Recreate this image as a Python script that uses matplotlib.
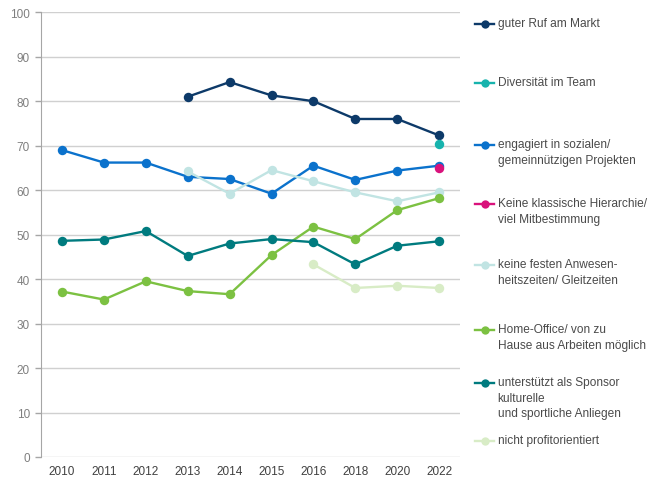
import numpy as np
import matplotlib.pyplot as plt

# Jahre (kategoriale Achse, 2017/2019/2021 fehlen)
jahre = ['2010', '2011', '2012', '2013', '2014', '2015', '2016', '2018', '2020', '2022']
nan = np.nan

guter_ruf = [nan, nan, nan, 81.0, 84.3, 81.3, 80.0, 76.0, 76.0, 72.3]
diversitaet = [nan, nan, nan, nan, nan, nan, nan, nan, nan, 70.3]
engagiert = [69.0, 66.2, 66.2, 63.0, 62.5, 59.2, 65.5, 62.3, 64.4, 65.5]
hierarchie = [nan, nan, nan, nan, nan, nan, nan, nan, nan, 65.0]
gleitzeit = [nan, nan, nan, 64.2, 59.2, 64.5, 62.0, 59.5, 57.5, 59.5]
homeoffice = [37.2, 35.4, 39.5, 37.3, 36.6, 45.4, 51.8, 49.0, 55.5, 58.2]
sponsor = [48.6, 48.9, 50.8, 45.2, 48.0, 49.0, 48.3, 43.3, 47.5, 48.5]
nicht_profit = [nan, nan, nan, nan, nan, nan, 43.3, 38.0, 38.5, 38.0]

serien = [
    ('guter Ruf am Markt', guter_ruf, '#0d3a69'),
    ('Diversität im Team', diversitaet, '#17b3ad'),
    ('engagiert in sozialen/\ngemeinnützigen Projekten', engagiert, '#0b72cc'),
    ('Keine klassische Hierarchie/\nviel Mitbestimmung', hierarchie, '#d9127c'),
    ('keine festen Anwesen-\nheitszeiten/ Gleitzeiten', gleitzeit, '#c1e4e3'),
    ('Home-Office/ von zu\nHause aus Arbeiten möglich', homeoffice, '#7cc142'),
    ('unterstützt als Sponsor\nkulturelle\nund sportliche Anliegen', sponsor, '#007b7f'),
    ('nicht profitorientiert', nicht_profit, '#d8ecc6'),
]

plt.rcParams['font.family'] = ['Liberation Sans', 'DejaVu Sans']

fig = plt.figure(figsize=(6.62, 4.85), dpi=100)
ax = fig.add_axes([0.062, 0.0557, 0.633, 0.917])

x = np.arange(len(jahre))
for label, werte, farbe in serien:
    ax.plot(x, werte, color=farbe, linewidth=1.7, marker='o', markersize=6.8,
            markeredgewidth=0, solid_capstyle='round')

ax.set_xlim(-0.5, len(jahre) - 0.5)
ax.set_ylim(0, 100)
ax.set_yticks(range(0, 101, 10))
ax.set_xticks(x)
ax.set_xticklabels(jahre)
ax.grid(True, axis='y', color='#d0d0d0', linewidth=1.0)
ax.set_axisbelow(True)
for s in ['top', 'right', 'bottom']:
    ax.spines[s].set_visible(False)
ax.spines['left'].set_color('#a6a6a6')
ax.tick_params(axis='y', colors='#a6a6a6', labelcolor='#7f7f7f', labelsize=8.5,
               length=4, width=1, pad=4)
ax.tick_params(axis='x', length=0, labelcolor='#404040', labelsize=8.5, pad=6)

# Legende rechts, manuell gesetzt (Symbol auf Höhe der ersten Textzeile)
leg = fig.add_axes([0.7, 0, 0.3, 1])
leg.set_xlim(0, 198)
leg.set_ylim(485, 0)
leg.axis('off')
zeilen_y = [25, 84, 146, 205, 266, 331, 384, 442]
for (label, werte, farbe), yy in zip(serien, zeilen_y):
    leg.plot([12, 31], [yy, yy], color=farbe, linewidth=1.7)
    leg.plot([21.5], [yy], 'o', color=farbe, markersize=6, markeredgewidth=0)
    leg.text(34, yy - 6.5, label, va='top', ha='left', fontsize=8.6,
             color='#4a4a4a', linespacing=1.35)

fig.savefig('out.png', dpi=100)
